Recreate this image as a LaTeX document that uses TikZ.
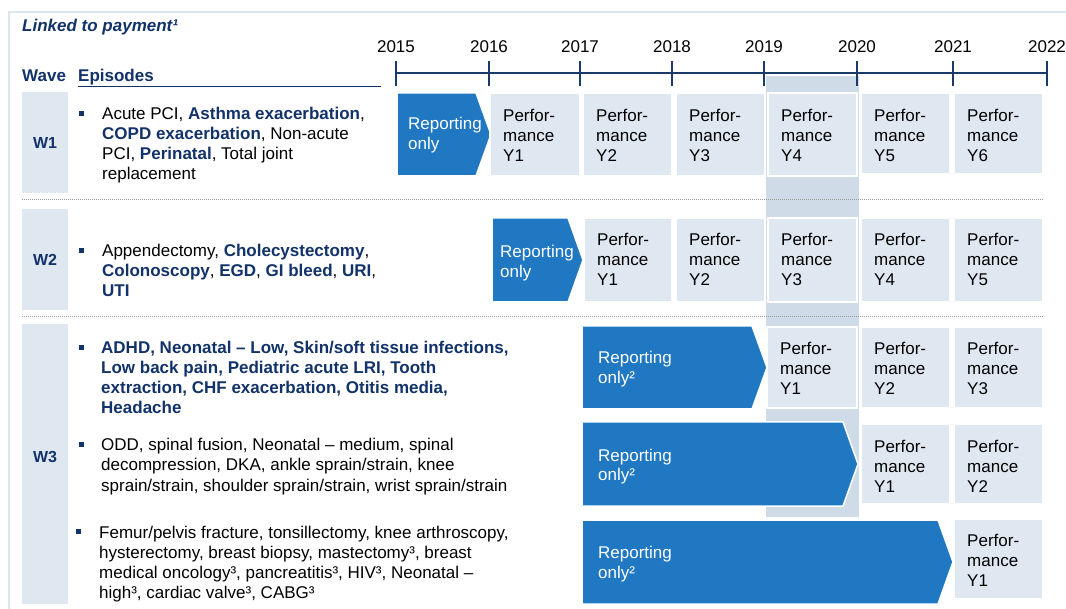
\documentclass[tikz,border=0pt]{standalone}
\usepackage{fontspec}
\setmainfont{Liberation Sans}
\definecolor{navy}{HTML}{12326A}
\definecolor{navyline}{HTML}{1A3A6A}
\definecolor{repblue}{HTML}{1F78C1}
\definecolor{perfbox}{HTML}{DFE8F1}
\definecolor{shadecol}{HTML}{CFDCE7}
\definecolor{framecol}{HTML}{DCE6EF}
\definecolor{dotcol}{HTML}{9A9A9A}
\newcommand\mlines[1]{\begin{tabular}[t]{@{}l@{}}#1\end{tabular}}
\newcommand\nb[1]{{\bfseries\color{navy}#1}}
\tikzset{
  txt/.style={anchor=base west, inner sep=0pt, font=\fontsize{17}{20}\selectfont, text=black},
  wtxt/.style={txt, text=white},
  perffill/.style={fill=perfbox, draw=white, line width=1.5pt},
  repfill/.style={fill=repblue, draw=white, line width=1.5pt},
  bulletsq/.style={fill=navy},
  sepline/.style={draw=dotcol, line width=1pt, dash pattern=on 1pt off 1pt},
  wavelab/.style={anchor=base, inner sep=0pt, font=\fontsize{16}{19}\selectfont\bfseries, text=navy},
  yearlab/.style={anchor=base, inner sep=0pt, font=\fontsize{17}{20}\selectfont, text=black},
}
% perf box: name, x0, x1, y0, y1, year, text baseline
\newcommand\perfbox[7]{%
  \fill[perffill] (#2,#4) rectangle (#3,#5);
  \node[txt] (#1) at ({#2+13},#7) {\mlines{Perfor-\\mance\\#6}};
}
% reporting chevron: name, x0, x1, y0, y1, text x, baseline, text
\newcommand\repbox[8]{%
  \filldraw[repfill] (#2,#4) -- ({#3-15},#4) -- (#3,{(#4+#5)/2}) -- ({#3-15},#5) -- (#2,#5) -- cycle;
  \node[wtxt] (#1) at (#6,#7) {\mlines{#8}};
}
\begin{document}
\begin{tikzpicture}[x=1pt,y=-1pt]
\useasboundingbox (0,0) rectangle (1066,609);
\fill[white] (0,0) rectangle (1066,609);
% frame
\draw[framecol, line width=2pt] (9,609) -- (9,12) -- (1066,12);
% title
\node[txt, font=\fontsize{17}{20}\selectfont\bfseries\itshape, text=navy] (title) at (22,32) {Linked to payment¹};
% headers
\node[txt, font=\fontsize{17}{20}\selectfont\bfseries, text=navy] (wave) at (22,82) {Wave};
\node[txt, font=\fontsize{17}{20}\selectfont\bfseries, text=navy] (episodes) at (78,82) {Episodes};
\coordinate (ulA) at (78,87);
\coordinate (ulB) at (381,87);
\draw[navy, line width=1pt] (ulA) -- (ulB);
% shaded column
\fill[shadecol] (766,76) rectangle (859,517);
% timeline
\coordinate (t0) at (396,73);
\coordinate (t7) at (1047,73);
\draw[navyline, line width=2.6pt] (t0) -- (t7);
\foreach \x/\yr in {396/2015,489/2016,580/2017,672/2018,764/2019,857/2020,953/2021,1047/2022}{
  \draw[navyline, line width=2.6pt] (\x,61) -- (\x,86);
  \node[yearlab] (yr\yr) at (\x,53) {\yr};
}
% wave label boxes
\fill[perfbox] (22,92) rectangle (68,193);
\node[wavelab] (w1) at (45,149) {W1};
\fill[perfbox] (22,209) rectangle (68,310);
\node[wavelab] (w2) at (45,266) {W2};
\fill[perfbox] (22,324) rectangle (68,604);
\node[wavelab] (w3) at (45,463) {W3};
% separators
\draw[sepline] (22,200) -- (1043,200);
\draw[sepline] (22,317) -- (1043,317);
% ---------- W1 ----------
\fill[bulletsq] (79,111) rectangle (84,116);
\node[txt] (ep1) at (102,120) {\mlines{Acute PCI, \nb{Asthma exacerbation},\\\nb{COPD exacerbation}, Non-acute\\PCI, \nb{Perinatal}, Total joint\\replacement}};
\repbox{r1}{397}{491}{93}{176}{408}{130}{Reporting\\only}
\perfbox{p1a}{490}{580}{93}{176}{Y1}{122}
\perfbox{p1b}{583}{672}{93}{176}{Y2}{122}
\perfbox{p1c}{676}{765}{93}{176}{Y3}{122}
\perfbox{p1d}{768}{857}{93}{176}{Y4}{122}
\perfbox{p1e}{861}{950}{93}{174}{Y5}{122}
\perfbox{p1f}{954}{1043}{93}{174}{Y6}{122}
% ---------- W2 ----------
\fill[bulletsq] (79,248) rectangle (84,253);
\node[txt] (ep2) at (102,257) {\mlines{Appendectomy, \nb{Cholecystectomy},\\\nb{Colonoscopy}, \nb{EGD}, \nb{GI bleed}, \nb{URI},\\\nb{UTI}}};
\repbox{r2}{492}{583}{218}{302}{500}{258}{Reporting\\only}
\perfbox{p2a}{584}{672}{218}{302}{Y1}{246}
\perfbox{p2b}{676}{765}{218}{302}{Y2}{246}
\perfbox{p2c}{768}{857}{218}{302}{Y3}{246}
\perfbox{p2d}{861}{950}{218}{302}{Y4}{246}
\perfbox{p2e}{954}{1043}{218}{302}{Y5}{246}
% ---------- W3 ----------
\fill[bulletsq] (79,345) rectangle (84,350);
\node[txt, font=\fontsize{17}{20}\selectfont\bfseries, text=navy] (ep3a) at (101,354) {\mlines{ADHD, Neonatal – Low, Skin/soft tissue infections,\\Low back pain, Pediatric acute LRI, Tooth\\extraction, CHF exacerbation, Otitis media,\\Headache}};
\fill[bulletsq] (79,442) rectangle (84,447);
\node[txt] (ep3b) at (101,451) {\mlines{ODD, spinal fusion, Neonatal – medium, spinal\\decompression, DKA, ankle sprain/strain, knee\\sprain/strain, shoulder sprain/strain, wrist sprain/strain}};
\fill[bulletsq] (76,529) rectangle (81,534);
\node[txt] (ep3c) at (99,538) {\mlines{Femur/pelvis fracture, tonsillectomy, knee arthroscopy,\\hysterectomy, breast biopsy, mastectomy³, breast\\medical oncology³, pancreatitis³, HIV³, Neonatal –\\high³, cardiac valve³, CABG³}};
\repbox{r3a}{582}{767}{326}{409}{598}{364}{Reporting\\only²}
\perfbox{p3a1}{767}{857}{327}{408}{Y1}{355}
\perfbox{p3a2}{861}{950}{327}{408}{Y2}{355}
\perfbox{p3a3}{954}{1043}{327}{408}{Y3}{355}
\repbox{r3b}{582}{858}{422}{506}{598}{461}{Reporting\\only²}
\perfbox{p3b1}{861}{950}{424}{504}{Y1}{453}
\perfbox{p3b2}{954}{1043}{424}{504}{Y2}{453}
\repbox{r3c}{582}{953}{520}{604}{598}{558}{Reporting\\only²}
\perfbox{p3c1}{954}{1043}{519}{599}{Y1}{546}
\end{tikzpicture}
\end{document}
